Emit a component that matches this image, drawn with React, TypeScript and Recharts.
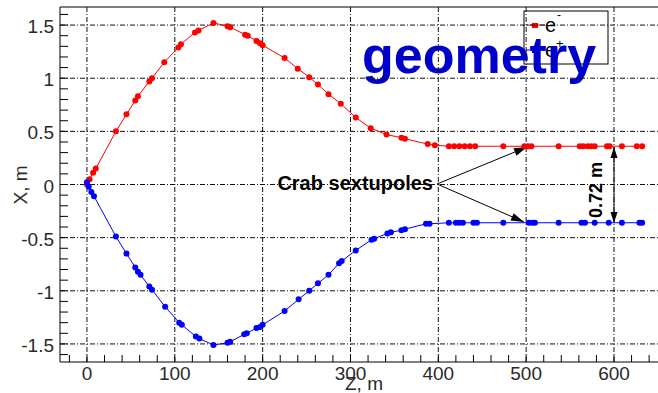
import React from 'react';
import { LineChart, Line, XAxis, YAxis, ReferenceLine, Customized } from 'recharts';

// axis ticks
const zTickLabels = [0, 100, 200, 300, 400, 500, 600];
const xTickLabels = [-1.5, -1, -0.5, 0, 0.5, 1, 1.5];
const zMinorTicks = Array.from({ length: 34 }, (_, i) => -20 + i * 20);
const xMinorTicks = Array.from({ length: 33 }, (_, i) => Math.round((-1.6 + i * 0.1) * 10) / 10);

// e- orbit (red)
const zElectron = [0, 3, 7, 10, 33, 45, 55, 58, 71, 74, 88, 104, 107, 123, 127, 144, 160, 163, 180, 183, 193, 197, 200, 225, 240, 253, 263, 275, 289, 306, 323, 341, 358, 362, 388, 396, 412, 418, 424, 430, 436, 442, 474, 498, 502, 506, 537, 561, 565, 570, 574, 578, 592, 595, 609, 626, 632];
const xElectron = [0, 0.05, 0.11, 0.15, 0.5, 0.66, 0.79, 0.83, 0.97, 1.0, 1.15, 1.29, 1.32, 1.43, 1.45, 1.52, 1.49, 1.48, 1.41, 1.4, 1.35, 1.33, 1.31, 1.19, 1.09, 1.01, 0.94, 0.85, 0.76, 0.63, 0.53, 0.47, 0.44, 0.43, 0.38, 0.37, 0.36, 0.36, 0.36, 0.36, 0.36, 0.36, 0.36, 0.36, 0.36, 0.36, 0.36, 0.36, 0.36, 0.36, 0.36, 0.36, 0.36, 0.36, 0.36, 0.36, 0.36];

// e+ orbit (blue)
const zPositron = [0, 2, 5, 8, 33, 45, 55, 58, 61, 71, 74, 89, 105, 108, 124, 128, 144, 160, 163, 179, 182, 193, 197, 200, 225, 241, 253, 263, 275, 287, 290, 306, 324, 327, 342, 346, 358, 362, 386, 390, 412, 420, 424, 428, 440, 444, 474, 503, 507, 510, 537, 563, 567, 578, 594, 609, 629, 632];
const xPositron = [0.02, -0.02, -0.07, -0.11, -0.49, -0.65, -0.78, -0.82, -0.85, -0.96, -0.99, -1.15, -1.3, -1.32, -1.43, -1.45, -1.51, -1.49, -1.48, -1.41, -1.4, -1.35, -1.34, -1.32, -1.19, -1.08, -1.0, -0.93, -0.85, -0.74, -0.72, -0.62, -0.52, -0.51, -0.46, -0.45, -0.43, -0.42, -0.37, -0.37, -0.36, -0.36, -0.36, -0.36, -0.36, -0.36, -0.36, -0.36, -0.36, -0.36, -0.36, -0.36, -0.36, -0.36, -0.36, -0.36, -0.36, -0.36];

const electronData = zElectron.map((z, i) => ({ z, x: xElectron[i] }));
const positronData = zPositron.map((z, i) => ({ z, x: xPositron[i] }));

const tickFont = { fontFamily: 'Liberation Sans, Arial, sans-serif', fontSize: 19, fill: '#2a2a2a' };
const gridDash = '5 2 1 2';

const ZTick = (props: any) => {
  const { x, y, payload } = props;
  const major = zTickLabels.includes(payload.value);
  return (
    <g>
      <line x1={x} y1={y} x2={x} y2={y - 7} stroke="#000" />
      {major && (
        <text x={x} y={y + 18} textAnchor="middle" {...tickFont}>
          {payload.value}
        </text>
      )}
    </g>
  );
};

const XTick = (props: any) => {
  const { x, y, payload } = props;
  const major = xTickLabels.includes(payload.value);
  return (
    <g>
      <line x1={x} y1={y} x2={x + 8} y2={y} stroke="#000" />
      {major && (
        <text x={x - 6} y={y + 8} textAnchor="end" {...tickFont}>
          {payload.value}
        </text>
      )}
    </g>
  );
};

const arrowHead = (x1: number, y1: number, x2: number, y2: number, len = 12, half = 4) => {
  const d = Math.hypot(x2 - x1, y2 - y1);
  const ux = (x2 - x1) / d;
  const uy = (y2 - y1) / d;
  const bx = x2 - ux * len;
  const by = y2 - uy * len;
  return `${x2},${y2} ${bx - uy * half},${by + ux * half} ${bx + uy * half},${by - ux * half}`;
};

const Overlay = () => (
  <g>
    <line x1={60} y1={7} x2={658} y2={7} stroke="#000" />

    {/* legend */}
    <rect x={524} y={11} width={84} height={53} fill="#fff" stroke="#000" />
    <line x1={526} y1={25} x2={545} y2={25} stroke="#f00" />
    <rect x={532} y={23} width={6} height={5} fill="#f00" />
    <text x={545} y={32} fontFamily="Liberation Sans, Arial, sans-serif" fontSize={20} fill="#000">e</text>
    <text x={557} y={19} fontFamily="Liberation Sans, Arial, sans-serif" fontSize={12} fill="#000">-</text>
    <line x1={526} y1={50} x2={545} y2={50} stroke="#00f" />
    <rect x={532} y={48} width={6} height={5} fill="#00f" />
    <text x={545} y={57} fontFamily="Liberation Sans, Arial, sans-serif" fontSize={20} fill="#000">e</text>
    <text x={556} y={48} fontFamily="Liberation Sans, Arial, sans-serif" fontSize={13} fill="#000">+</text>

    <text x={362} y={73} fontFamily="Liberation Sans, Arial, sans-serif" fontSize={52} fontWeight="bold" fill="#0000cc">
      geometry
    </text>

    {/* crab sextupoles annotation */}
    <text x={433} y={190} textAnchor="end" fontFamily="Liberation Sans, Arial, sans-serif" fontSize={20} fontWeight="bold" fill="#000">
      Crab sextupoles
    </text>
    <line x1={437} y1={184} x2={527} y2={147} stroke="#000" />
    <polygon points={arrowHead(437, 184, 527, 147, 13, 4)} fill="#000" />
    <line x1={437} y1={184} x2={524} y2={222} stroke="#000" />
    <polygon points={arrowHead(437, 184, 524, 222, 13, 4)} fill="#000" />

    {/* separation */}
    <line x1={614} y1={147} x2={614} y2={223} stroke="#000" />
    <polygon points={arrowHead(614, 185, 614, 147, 11, 3.5)} fill="#000" />
    <polygon points={arrowHead(614, 185, 614, 223, 11, 3.5)} fill="#000" />
    <text
      x={596}
      y={190}
      transform="rotate(-90, 596, 190)"
      textAnchor="middle"
      dominantBaseline="central"
      fontFamily="Liberation Sans, Arial, sans-serif"
      fontSize={18}
      fontWeight="bold"
      fill="#000"
    >
      0.72 m
    </text>

    {/* axis titles */}
    <text x={364} y={390} textAnchor="middle" {...tickFont}>Z, m</text>
    <text x={20} y={185} transform="rotate(-90, 20, 185)" textAnchor="middle" dominantBaseline="central" {...tickFont}>
      X, m
    </text>
  </g>
);

export default function App() {
  return (
    <div style={{ position: 'absolute', left: 0, top: 0, width: 658, height: 393, background: '#fff' }}>
      <LineChart width={658} height={393} margin={{ top: 7, right: 0, bottom: 0, left: 0 }}>
        <XAxis
          dataKey="z"
          type="number"
          domain={[-30.7, 650.1]}
          ticks={zMinorTicks}
          interval={0}
          allowDataOverflow
          height={31}
          tickSize={0}
          tickMargin={0}
          tickLine={false}
          axisLine={{ stroke: '#000' }}
          tick={<ZTick />}
        />
        <YAxis
          dataKey="x"
          type="number"
          domain={[-1.67, 1.67]}
          ticks={xMinorTicks}
          interval={0}
          allowDataOverflow
          width={60}
          tickSize={0}
          tickMargin={0}
          tickLine={false}
          axisLine={{ stroke: '#000' }}
          tick={<XTick />}
        />
        {zTickLabels.map((v) => (
          <ReferenceLine key={'gz' + v} x={v} stroke="#111" strokeDasharray={gridDash} />
        ))}
        {xTickLabels.map((v) => (
          <ReferenceLine key={'gx' + v} y={v} stroke="#111" strokeDasharray={gridDash} />
        ))}
        <Line
          data={electronData}
          dataKey="x"
          type="linear"
          stroke="#ff0000"
          strokeWidth={1}
          dot={{ r: 3, fill: '#ff0000', stroke: 'none' }}
          activeDot={false}
          isAnimationActive={false}
        />
        <Line
          data={positronData}
          dataKey="x"
          type="linear"
          stroke="#0000ff"
          strokeWidth={1}
          dot={{ r: 3, fill: '#0000ff', stroke: 'none' }}
          activeDot={false}
          isAnimationActive={false}
        />
        <Customized component={Overlay} />
      </LineChart>
    </div>
  );
}
